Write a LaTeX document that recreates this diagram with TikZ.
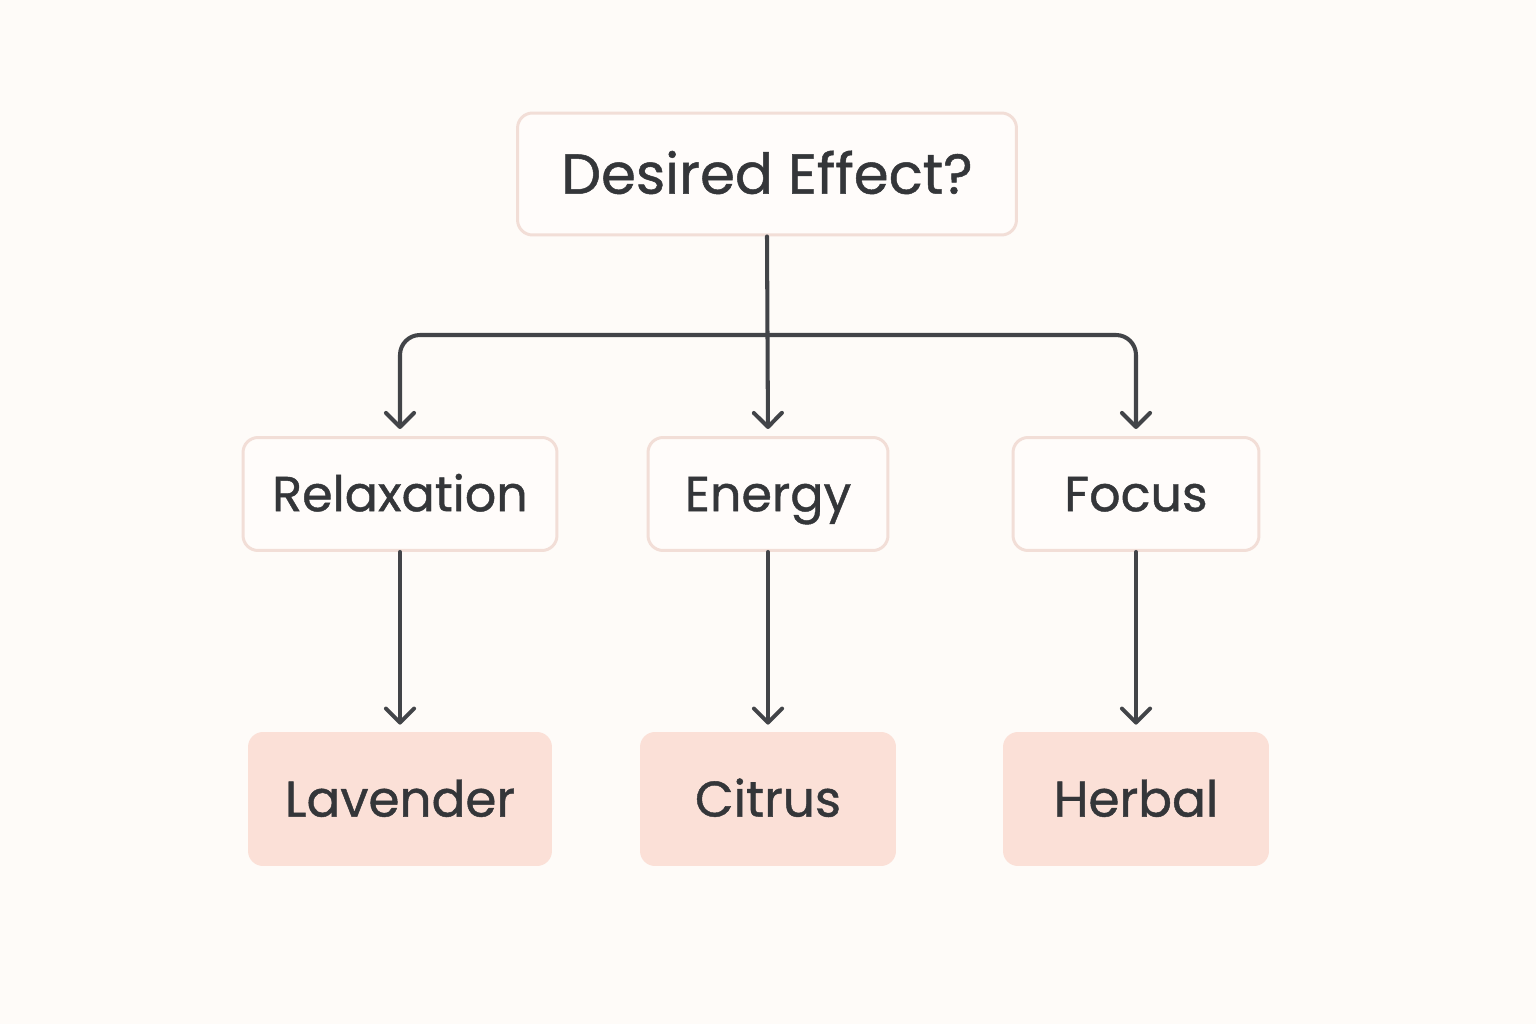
\documentclass[tikz,border=0pt]{standalone}
\usepackage{fontspec}
\setmainfont{Poppins}
\newfontfamily\labelfont{Poppins}[FakeBold=0.9]
\usetikzlibrary{positioning, arrows.meta}
\definecolor{paperColor}{RGB}{254, 251, 248}
\definecolor{inkColor}{RGB}{52, 54, 57}
\definecolor{edgeColor}{RGB}{66, 68, 72}
\definecolor{rimColor}{RGB}{242, 222, 215}
\definecolor{boxFill}{RGB}{255, 252, 250}
\definecolor{oilFill}{RGB}{251, 224, 215}
\tikzset{
    question_box/.style={
        draw=rimColor,
        line width=1.7pt,
        fill=boxFill,
        rounded corners=0.3cm,
        text=inkColor,
        font=\labelfont\fontsize{32}{38}\selectfont,
        text height=22.4pt,
        text depth=0pt,
        minimum width=9.98cm,
        minimum height=2.44cm
    },
    choice_box/.style={
        question_box,
        font=\labelfont\fontsize{28}{34}\selectfont,
        text height=19.6pt,
        minimum height=2.26cm
    },
    oil_box/.style={
        draw=none,
        fill=oilFill,
        rounded corners=0.3cm,
        text=inkColor,
        font=\labelfont\fontsize{28.5}{34}\selectfont,
        text height=20pt,
        text depth=0pt,
        minimum height=2.68cm
    },
    flow_edge/.style={
        -{Straight Barb[length=8pt, width=16pt, round]},
        line width=2.3pt,
        draw=edgeColor,
        line cap=round,
        shorten >=4pt
    }
}

\begin{document}
\begin{tikzpicture}[x=0.02cm, y=-0.02cm]
    \fill[paperColor] (0,0) rectangle (1536,1024);
    \useasboundingbox (0,0) rectangle (1536,1024);

    \node[question_box] (effect) at (767,174) {Desired Effect?};

    \node[choice_box, minimum width=6.28cm] (relax) at (400,494) {Relaxation};
    \node[choice_box, minimum width=4.8cm] (energy) at (768,494) {Energy};
    \node[choice_box, minimum width=4.92cm] (focus) at (1136,494) {Focus};

    \node[oil_box, minimum width=6.08cm] (lavender) at (400,799) {Lavender};
    \node[oil_box, minimum width=5.12cm] (citrus) at (768,799) {Citrus};
    \node[oil_box, minimum width=5.32cm] (herbal) at (1136,799) {Herbal};

    \coordinate (split) at (767,335);

    \draw[flow_edge] (effect.south) -- (energy.north);
    \draw[flow_edge, rounded corners=0.4cm] (split) -| (relax.north);
    \draw[flow_edge, rounded corners=0.4cm] (split) -| (focus.north);

    \draw[flow_edge] (relax) -- (lavender);
    \draw[flow_edge] (energy) -- (citrus);
    \draw[flow_edge] (focus) -- (herbal);
\end{tikzpicture}
\end{document}
